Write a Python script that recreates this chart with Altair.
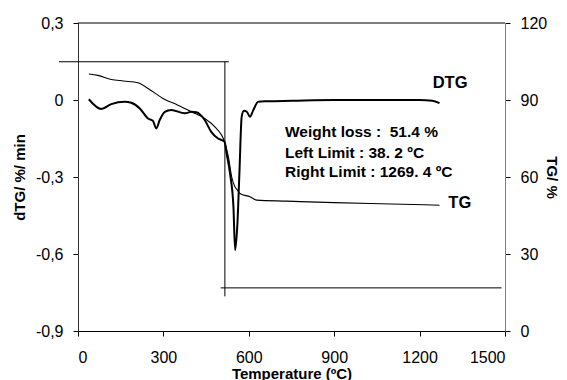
import altair as alt
import pandas as pd

# DTG curve (temperature in C, dTG in %/min)
dtg_temp = [38, 82, 117, 164, 187, 217, 246, 263, 275, 287, 305, 328, 375, 398, 416, 445,
            468, 492, 515, 522, 534, 546, 552, 560, 567, 575, 583, 593, 604, 616, 633, 663,
            750, 900, 1050, 1200, 1245, 1270]
dtg_vals = [0.003, -0.035, -0.016, -0.007, -0.011, -0.033, -0.072, -0.081, -0.111, -0.078,
            -0.046, -0.039, -0.052, -0.046, -0.048, -0.078, -0.124, -0.150, -0.163, -0.208,
            -0.286, -0.416, -0.585, -0.481, -0.286, -0.065, -0.042, -0.046, -0.065, -0.039,
            -0.007, -0.005, -0.003, 0.0, 0.0, 0.0, -0.003, -0.012]

# TG curve (temperature in C, mass in %)
tg_temp = [38, 70, 117, 160, 211, 246, 305, 351, 398, 445, 480, 515, 528, 540, 550, 560,
           569, 604, 628, 733, 900, 1100, 1270]
tg_vals = [100.1, 99.6, 98.0, 97.4, 96.7, 94.5, 90.2, 88.0, 85.4, 82.8, 79.6, 73.7, 68.0,
           60.0, 56.5, 54.9, 53.6, 52.3, 51.0, 50.6, 50.0, 49.5, 49.0]

# limit lines (TG coordinates)
limit_x = [-67, 516, 501]
limit_x2 = [530, 516, 1488]
limit_y = [104.9, 105.0, 16.8]
limit_y2 = [104.9, 13.5, 16.8]

# annotation texts (DTG coordinates)
note_text = ["Weight loss :\u00a0 51.4 %", "Left Limit : 38. 2 ºC", "Right Limit : 1269. 4 ºC"]
note_x = [727, 727, 727]
note_y = [-0.126, -0.208, -0.280]

curve_labels = ["DTG", "TG"]
curve_label_x = [1246, 1301]
curve_label_y = [0.066, -0.402]

FONT = "Liberation Sans"

df_dtg = pd.DataFrame({"T": dtg_temp, "v": dtg_vals})
df_tg = pd.DataFrame({"T": tg_temp, "tg": tg_vals})
df_lim = pd.DataFrame({"x": limit_x, "x2": limit_x2, "y": limit_y, "y2": limit_y2})
df_note = pd.DataFrame({"x": note_x, "y": note_y, "t": note_text})
df_lab = pd.DataFrame({"x": curve_label_x, "y": curve_label_y, "t": curve_labels})
df_top = pd.DataFrame({"x": [0], "x2": [1500], "y": [0.3]})

x_scale = alt.Scale(domain=[0, 1500], nice=False)
y_left = alt.Scale(domain=[-0.9, 0.3], nice=False)
y_right = alt.Scale(domain=[0, 120], nice=False)

common = dict(grid=False, tickSize=5, tickColor="black", tickWidth=1,
              labelFont=FONT, labelFontSize=16, labelColor="black",
              titleFont=FONT, titleFontWeight="bold", titleColor="black", titleFontSize=15)

x_axis = alt.Axis(values=[0, 300, 600, 900, 1200, 1500], format="d", title="Temperature (ºC)",
                  labelPadding=13, domainColor="black",
                  titleX=213.5, titleY=47, titleBaseline="alphabetic", titleAlign="center",
                  **common)

left_axis = alt.Axis(values=[-0.9, -0.6, -0.3, 0, 0.3],
                     labelExpr="datum.value == 0 ? '0' : (datum.value < 0 ? '-' : '') + replace(format(abs(datum.value), '.1f'), '.', ',')",
                     title="dTG/ %/ min", labelPadding=10,
                     domainColor="#333", titleX=-59, titleY=154, titleAngle=270,
                     titleAlign="center", titleBaseline="middle", **common)

right_axis = alt.Axis(values=[0, 30, 60, 90, 120], orient="right", title="TG/ %",
                      labelPadding=10, domainColor="#808080",
                      titleX=46, titleY=154, titleAngle=90, titleAlign="center",
                      titleBaseline="middle", **common)

dtg_line = alt.Chart(df_dtg).mark_line(color="black", strokeWidth=2, interpolate="monotone").encode(
    x=alt.X("T:Q", scale=x_scale, axis=x_axis),
    y=alt.Y("v:Q", scale=y_left, axis=left_axis),
)

top_line = alt.Chart(df_top).mark_rule(color="black", strokeWidth=1).encode(
    x=alt.X("x:Q", scale=x_scale, axis=x_axis), x2="x2:Q",
    y=alt.Y("y:Q", scale=y_left, axis=left_axis),
)

notes = alt.Chart(df_note).mark_text(font=FONT, fontSize=15.5, fontWeight="bold", align="left",
                                     baseline="middle", color="black").encode(
    x=alt.X("x:Q", scale=x_scale, axis=x_axis),
    y=alt.Y("y:Q", scale=y_left, axis=left_axis),
    text="t:N",
)

labels = alt.Chart(df_lab).mark_text(font=FONT, fontSize=16.5, fontWeight="bold", align="left",
                                     baseline="middle", color="black").encode(
    x=alt.X("x:Q", scale=x_scale, axis=x_axis),
    y=alt.Y("y:Q", scale=y_left, axis=left_axis),
    text="t:N",
)

tg_line = alt.Chart(df_tg).mark_line(color="black", strokeWidth=1.1, interpolate="monotone").encode(
    x=alt.X("T:Q", scale=x_scale, axis=x_axis),
    y=alt.Y("tg:Q", scale=y_right, axis=right_axis),
)

limits = alt.Chart(df_lim).mark_rule(color="black", strokeWidth=1).encode(
    x=alt.X("x:Q", scale=x_scale, axis=x_axis), x2="x2:Q",
    y=alt.Y("y:Q", scale=y_right, axis=right_axis), y2="y2:Q",
)

left_layer = alt.layer(dtg_line, top_line, notes, labels)
right_layer = alt.layer(tg_line, limits)

chart = alt.layer(left_layer, right_layer).resolve_scale(y="independent").properties(
    width=427, height=308,
    padding={"left": 70, "top": 15, "right": 54, "bottom": 60},
    autosize=alt.AutoSizeParams(type="none"),
    background="white",
).configure_view(stroke="transparent", strokeWidth=0)

chart.save("out.html", embed_options={"renderer": "svg", "actions": False})
